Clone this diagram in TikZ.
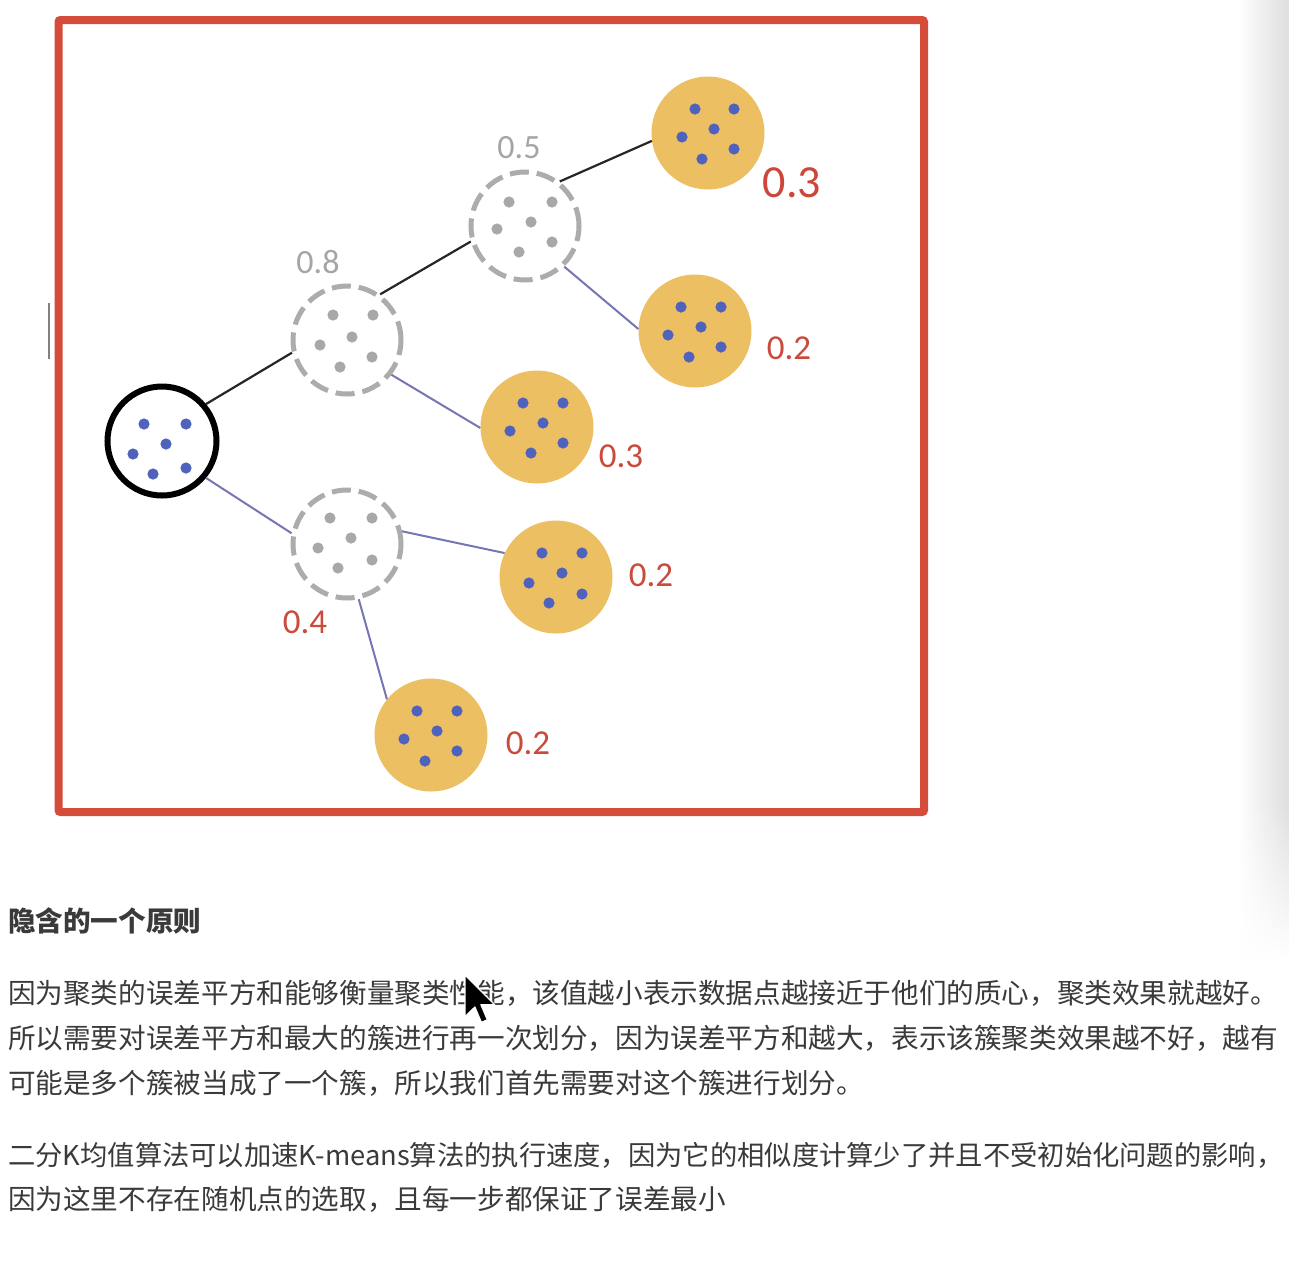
\documentclass[tikz,border=0pt]{standalone}
\usepackage{fontspec}
\setmainfont{Carlito}
\newfontfamily\cjk{Noto Sans CJK SC}
\usetikzlibrary{fadings}
\definecolor{frame}{RGB}{214,76,58}
\definecolor{leafcol}{RGB}{236,192,98}
\definecolor{bluedot}{RGB}{78,98,190}
\definecolor{graydot}{RGB}{168,168,168}
\definecolor{dashcol}{RGB}{172,172,172}
\definecolor{edgeblue}{RGB}{118,118,178}
\definecolor{labred}{RGB}{202,74,60}
\definecolor{labgray}{RGB}{165,165,165}
\definecolor{txt}{RGB}{58,58,58}
\newcommand\clusterdots[3]{%
  \foreach \dx/\dy in {#3}{\fill[#2] ($(#1)+(\dx,\dy)$) circle (5.6);}}
\usetikzlibrary{calc}
\begin{document}
\begin{tikzpicture}[x=1pt,y=-1pt,
  rootnode/.style={circle,draw=black,line width=6pt,fill=white,minimum size=109pt,inner sep=0pt},
  splitnode/.style={circle,draw=dashcol,line width=5pt,dash pattern=on 19pt off 8pt,fill=white,minimum size=108pt,inner sep=0pt},
  leafnode/.style={circle,fill=leafcol,minimum size=113pt,inner sep=0pt},
  blackedge/.style={draw=black!85,line width=2.2pt},
  blueedge/.style={draw=edgeblue,line width=2pt},
  redlab/.style={text=labred,font=\fontsize{35}{35}\selectfont,inner sep=0pt},
  graylab/.style={text=labgray,font=\fontsize{34}{34}\selectfont,inner sep=0pt},
  textline/.style={anchor=base west,inner sep=0pt,text=txt,font=\cjk\fontsize{27.6}{27.6}\selectfont}]
\useasboundingbox (0,0) rectangle (1289,1262);
\fill[white] (0,0) rectangle (1289,1262);
% right shadow
\shade[left color=white,right color=black!13] (1238,0) rectangle (1289,800);
\shade[left color=white,right color=black!13,path fading=south] (1238,800) rectangle (1289,960);
% small gray mark left
\draw[black!50,line width=2pt] (49,303) -- (49,359);
% frame
\draw[frame,line width=8pt,rounded corners=2pt] (58.5,20) rectangle (924,812);

% nodes
\node[rootnode] (R) at (162,441) {};
\node[splitnode] (A) at (347,340) {};
\node[splitnode] (B) at (525,226) {};
\node[splitnode] (C) at (347,544) {};
\node[leafnode] (L1) at (708,133) {};
\node[leafnode] (L2) at (695,331) {};
\node[leafnode] (L3) at (537,427) {};
\node[leafnode] (L4) at (556,577) {};
\node[leafnode] (L5) at (431,735) {};

% edges
\draw[blackedge] (R.40) -- (A.193);
\draw[blackedge] (A.54) -- (B.196);
\draw[blackedge] (B.52) -- (L1.188);
\draw[blueedge] (B.-46) -- (L2.178);
\draw[blueedge] (A.-38) -- (L3.181);
\draw[blueedge] (R.-40) -- (C.169);
\draw[blueedge] (C.13) -- (L4.155);
\draw[blueedge] (C.-78) -- (L5.141);

% dots
\clusterdots{R}{bluedot}{-18/-17,24/-17,4/3,-29/13,-9/33,24/27}
\clusterdots{A}{graydot}{-14/-25,26/-25,5/-3,-27/5,-7/27,25/17}
\clusterdots{B}{graydot}{-16/-24,27/-24,6/-4,-28/3,-6/26,27/16}
\clusterdots{C}{graydot}{-17/-26,25/-26,4/-6,-29/4,-9/24,25/16}
\clusterdots{L1}{bluedot}{-13/-24,26/-24,6/-4,-26/4,-6/26,26/16}
\clusterdots{L2}{bluedot}{-14/-24,26/-24,6/-4,-27/4,-6/26,26/16}
\clusterdots{L3}{bluedot}{-14/-24,26/-24,6/-4,-27/4,-6/26,26/16}
\clusterdots{L4}{bluedot}{-14/-24,26/-24,6/-4,-27/6,-7/26,26/17}
\clusterdots{L5}{bluedot}{-14/-24,26/-24,6/-4,-27/4,-6/26,26/16}

% labels
\node[graylab] (lA) at (318,262) {0.8};
\node[graylab] (lB) at (519,148) {0.5};
\node[text=labred!95!red,font=\fontsize{46}{46}\selectfont,inner sep=0pt] (l1) at (792,183) {0.3};
\node[redlab] (l2) at (789,348) {0.2};
\node[redlab] (l3) at (621,456) {0.3};
\node[redlab] (l4) at (651,575) {0.2};
\node[redlab] (lC) at (305,622) {0.4};
\node[redlab] (l5) at (528,743) {0.2};

% text
\node[textline,font=\cjk\bfseries\fontsize{27.6}{27.6}\selectfont] (h) at (8,931) {隐含的一个原则};
\node[textline] (t1) at (8,1003) {因为聚类的误差平方和能够衡量聚类性能，该值越小表示数据点越接近于他们的质心，聚类效果就越好。};
\node[textline] (t2) at (8,1048) {所以需要对误差平方和最大的簇进行再一次划分，因为误差平方和越大，表示该簇聚类效果越不好，越有};
\node[textline] (t3) at (8,1093) {可能是多个簇被当成了一个簇，所以我们首先需要对这个簇进行划分。};
\node[textline,font=\cjk\fontsize{27.3}{27.3}\selectfont] (t4) at (8,1165) {二分K均值算法可以加速K-means算法的执行速度，因为它的相似度计算少了并且不受初始化问题的影响，};
\node[textline] (t5) at (8,1209) {因为这里不存在随机点的选取，且每一步都保证了误差最小};

% mouse cursor
\begin{scope}[shift={(465,975)},x=2.6pt,y=-2.6pt]
\filldraw[fill=black,draw=white,line width=1.2pt,line join=round]
  (0,0) -- (0,16) -- (3.8,12.3) -- (6.3,18.2) -- (8.6,17.2) -- (6.1,11.4) -- (11.4,11.4) -- cycle;
\end{scope}
\end{tikzpicture}
\end{document}
